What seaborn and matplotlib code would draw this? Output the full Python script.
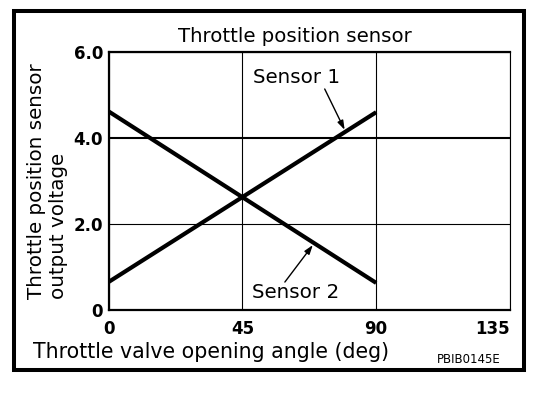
import matplotlib
matplotlib.use("Agg")
import matplotlib.pyplot as plt
import seaborn as sns
import pandas as pd
from matplotlib.patches import Rectangle

# ---- data ----
angles = [0, 90]
sensor1 = [0.65, 4.60]
sensor2 = [4.62, 0.63]
x_ticks = [0, 45, 90, 135]
x_tick_labels = ["0", "45", "90", "135"]
y_ticks = [0, 2, 4, 6]
y_tick_labels = ["0", "2.0", "4.0", "6.0"]
title = "Throttle position sensor"
x_label = "Throttle valve opening angle (deg)"
y_label = "Throttle position sensor\noutput voltage"
code_label = "PBIB0145E"

df = pd.DataFrame({
    "angle": angles + angles,
    "voltage": sensor1 + sensor2,
    "sensor": ["Sensor 1"] * len(angles) + ["Sensor 2"] * len(angles),
})

sns.set_theme(style="white")
plt.rcParams["font.family"] = ["DejaVu Sans"]

W, H = 560, 394
fig = plt.figure(figsize=(W / 100, H / 100), dpi=100)
fig.patch.set_facecolor("white")

L, R, T, B = 108.5, 510, 52, 310
ax = fig.add_axes([L / W, 1 - B / H, (R - L) / W, (B - T) / H])
ax.set_facecolor("white")

sns.lineplot(data=df, x="angle", y="voltage", hue="sensor",
             palette=["black", "black"], linewidth=3.0, legend=False,
             ax=ax, solid_capstyle="butt")

ax.set_xlim(0, 135)
ax.set_ylim(0, 6)
ax.set_xticks(x_ticks)
ax.set_xticklabels(x_tick_labels, fontsize=12, fontweight="bold", color="black")
ax.set_yticks(y_ticks)
ax.set_yticklabels(y_tick_labels, fontsize=12, fontweight="bold", color="black")
ax.get_xticklabels()[-1].set_ha("right")
ax.tick_params(axis="x", length=0, pad=7.5)
ax.tick_params(axis="y", length=0, pad=4)

ax.grid(True, color="black", linewidth=0.8)
ax.set_axisbelow(True)
for i, gl in enumerate(ax.get_ygridlines()):
    if y_ticks[i] == 4:
        gl.set_linewidth(1.5)

for side, lw in [("top", 1.6), ("left", 1.6), ("bottom", 1.6), ("right", 0.8)]:
    ax.spines[side].set_visible(True)
    ax.spines[side].set_color("black")
    ax.spines[side].set_linewidth(lw)

ax.set_title(title, fontsize=14.2, color="black",
             x=(295 - L) / (R - L), y=(B - 42) / (B - T), pad=0, va="baseline")

ax.set_xlabel(x_label, fontsize=14.8, color="black", ha="left", va="baseline")
ax.xaxis.set_label_coords((33 - L) / (R - L), (B - 358) / (B - T))

ax.set_ylabel(y_label, fontsize=14.3, color="black", multialignment="left")
ax.yaxis.set_label_coords((68 - L) / (R - L), 0.5)

arrow_style = dict(arrowstyle="-|>,head_length=0.45,head_width=0.15",
                   color="black", lw=1.0, shrinkA=0, shrinkB=0)

# annotations
ax.text(48.5, 5.28, "Sensor 1", fontsize=14.3, color="black",
        ha="left", va="baseline")
ax.annotate("", xy=(79.4, 4.19), xytext=(72.7, 5.14), arrowprops=arrow_style)

ax.text(48.2, 0.28, "Sensor 2", fontsize=14.3, color="black",
        ha="left", va="baseline")
ax.annotate("", xy=(68.7, 1.51), xytext=(59.3, 0.65), arrowprops=arrow_style)

fig.text(501 / W, 1 - 363 / H, code_label, fontsize=8.5, color="black",
         ha="right", va="baseline")

# outer frame
fig.patches.append(Rectangle((14 / W, 1 - 370 / H), (524 - 14) / W, (370 - 10.5) / H,
                             transform=fig.transFigure, fill=False,
                             edgecolor="black", linewidth=2.9))

fig.savefig("out.png", dpi=100, facecolor="white")
